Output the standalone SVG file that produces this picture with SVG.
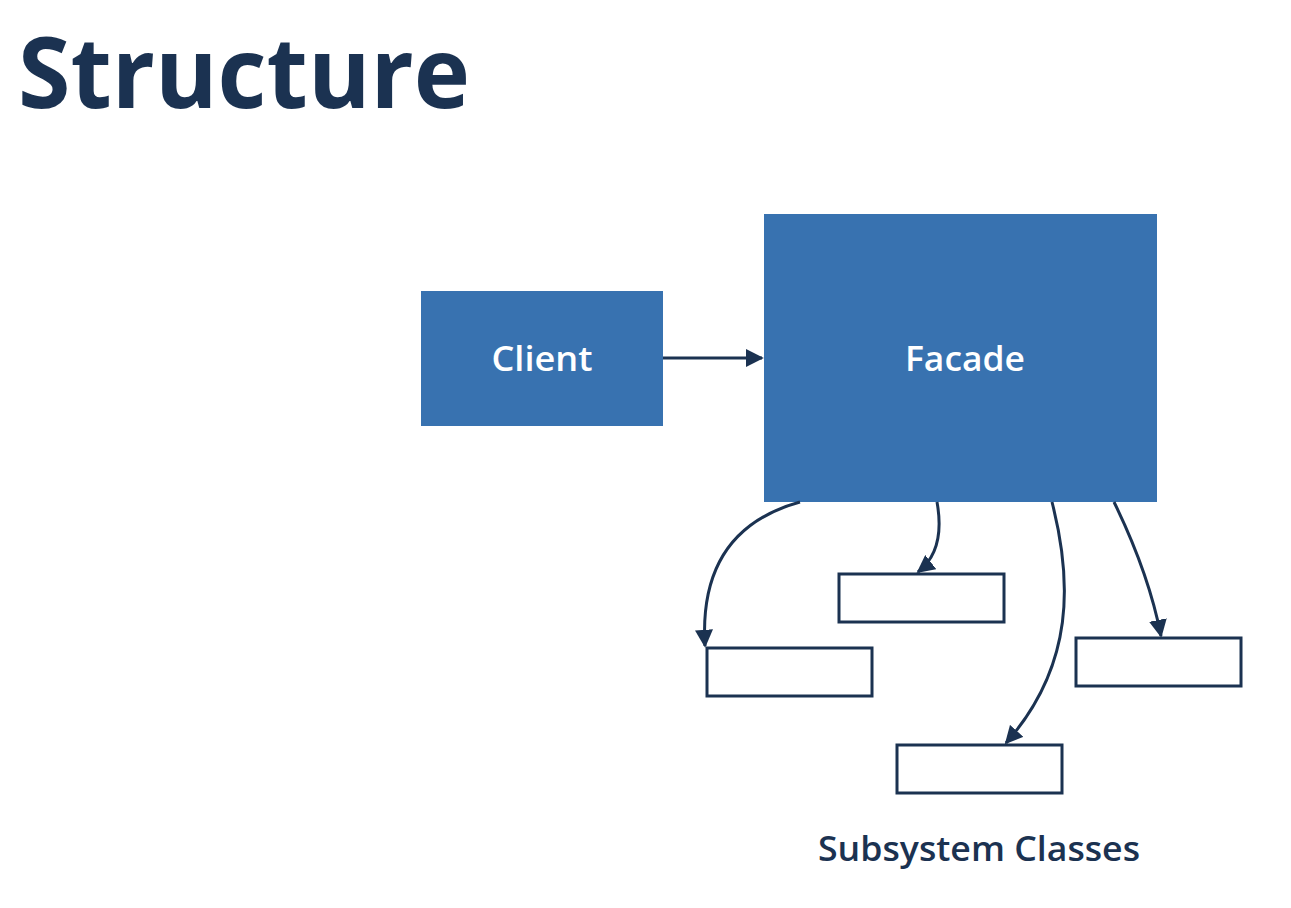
<svg xmlns="http://www.w3.org/2000/svg" width="1291" height="908" viewBox="0 0 1291 908">
<style>
.blue{fill:#3872B0}
.sub{fill:#ffffff;stroke:#1B3251;stroke-width:3}
.conn{fill:none;stroke:#1B3251;stroke-width:3}
.lbl{font-family:"Open Sans","Noto Sans",sans-serif;font-weight:600;fill:#ffffff;text-anchor:middle}
.title{font-family:"Open Sans","Noto Sans",sans-serif;font-weight:700;fill:#1B3251}
.cap{font-family:"Open Sans","Noto Sans",sans-serif;font-weight:600;fill:#1B3251;text-anchor:middle}
</style>
<defs>
<marker id="ah" viewBox="0 0 10 10" refX="9" refY="5" markerWidth="6" markerHeight="6" orient="auto" markerUnits="strokeWidth">
<path d="M0,0 L10,5 L0,10 z" fill="#1B3251"/>
</marker>
</defs>
<rect width="1291" height="908" fill="#ffffff"/>
<text class="title" x="18" y="108" font-size="98" textLength="452" lengthAdjust="spacingAndGlyphs">Structure</text>
<g id="client">
<rect class="blue" x="421" y="291" width="242" height="135"/>
<text class="lbl" x="542" y="371" font-size="35" textLength="101" lengthAdjust="spacingAndGlyphs">Client</text>
</g>
<g id="facade">
<rect class="blue" x="764" y="214" width="393" height="288"/>
<text class="lbl" x="965" y="371" font-size="35" textLength="120" lengthAdjust="spacingAndGlyphs">Facade</text>
</g>
<g id="sub1"><rect class="sub" x="707" y="648" width="165" height="48"/></g>
<g id="sub2"><rect class="sub" x="839" y="574" width="165" height="48"/></g>
<g id="sub3"><rect class="sub" x="1076" y="638" width="165" height="48"/></g>
<g id="sub4"><rect class="sub" x="897" y="745" width="165" height="48"/></g>
<g id="connectors">
<path class="conn" d="M663 358 L762 358" marker-end="url(#ah)"/>
<path class="conn" d="M800 502 C735 520 700 565 705 646" marker-end="url(#ah)"/>
<path class="conn" d="M937 502 C943 535 936 558 918 572" marker-end="url(#ah)"/>
<path class="conn" d="M1052 502 C1072 580 1075 665 1006 743" marker-end="url(#ah)"/>
<path class="conn" d="M1114 502 C1135 545 1152 590 1161 636" marker-end="url(#ah)"/>
</g>
<text class="cap" x="979" y="861" font-size="34" textLength="322" lengthAdjust="spacingAndGlyphs">Subsystem Classes</text>
</svg>
